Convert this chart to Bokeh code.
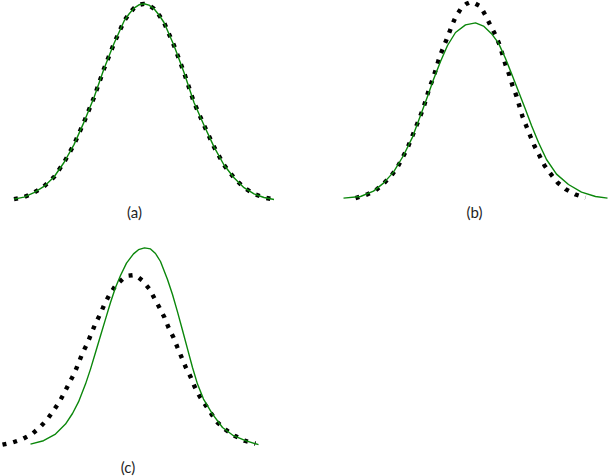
from bokeh.plotting import figure
from bokeh.layouts import gridplot
from bokeh.models import Range1d, Label
from bokeh.embed import file_html
from bokeh.resources import INLINE

# (a) reference and fit coincide
a_x = [-13, -12, -11, -10, -9, -8, -7, -6, -5, -4, -3, -2, -1.5, -1, -0.5, 0,
       0.5, 1, 1.5, 2, 3, 4, 5, 6, 7, 8, 9, 10, 11, 12, 13]
a_y = [0.7, 1.7, 3.9, 7.05, 11.75, 19.0, 27.95, 39.2, 51.5, 65.85, 78.5, 89.65, 93.25, 96.2, 97.85, 98.35,
       97.7, 95.9, 92.75, 89.0, 77.5, 64.0, 49.0, 37.65, 26.8, 17.75, 11.35, 6.4, 3.3, 1.5, 0.5]

# (b) wider fit against a taller reference
b_dot_x = [-11.5, -10.4, -9.5, -8.7, -7.9, -7.3, -6.8, -6.3, -5.9, -5.5, -5.1, -4.7, -4.4, -4.1,
           -3.7, -3.4, -3.1, -2.7, -2.3, -1.9, -1.5, -0.9, -0.45, 0, 0.5, 1.0, 1.5, 2.0, 2.5, 2.9,
           3.2, 3.5, 3.9, 4.2, 4.6, 4.9, 5.2, 5.6, 6.0, 6.4, 6.9, 7.4, 8.0, 8.7, 9.5, 10.5, 11.5]
b_dot_y = [1.2, 2.9, 5.0, 8.4, 12.5, 16.7, 21.4, 26.2, 31.2, 36.2, 41.2, 46.4, 51.4, 56.4,
           61.7, 66.7, 71.7, 76.7, 81.7, 87.0, 91.7, 96.4, 98.2, 99.2, 98.4, 97.0, 92.5, 87.5, 82.7, 77.9,
           72.9, 67.9, 62.5, 57.4, 52.2, 47.0, 42.0, 37.0, 32.0, 27.2, 22.4, 17.5, 13.4, 9.0, 5.7, 3.0, 1.4]
b_fit_x = [-12.7, -11.0, -9.7, -8.7, -7.7, -6.7, -5.8, -5.0, -4.3, -3.7, -3.0, -2.3, -1.5, -0.5,
           0.5, 1.3, 2.1, 2.8, 3.5, 4.1, 4.8, 5.5, 6.1, 6.8, 7.6, 8.6, 9.8, 11.1, 12.5, 13.7]
b_fit_y = [1.2, 2.0, 4.7, 8.7, 14.2, 22.5, 31.7, 42.5, 52.0, 60.5, 69.5, 77.5, 84.0, 87.8,
           88.8, 87.2, 83.4, 78.7, 71.0, 63.5, 54.5, 45.5, 37.5, 29.0, 20.5, 13.2, 8.0, 4.2, 2.0, 1.2]

# (c) skewed reference against a narrower fit
c_dot_x = [-14.2, -13.2, -12.2, -11.2, -10.4, -9.7, -9.1, -8.5, -8.0, -7.5, -7.0, -6.6, -6.2, -5.7,
           -5.3, -4.9, -4.4, -4.0, -3.5, -2.9, -2.1, -1.6, -1.1, -0.7, -0.2, 0.5, 1.0, 1.5, 2.0, 2.4,
           2.9, 3.3, 3.7, 4.1, 4.6, 5.0, 5.5, 6.1, 6.7, 7.3, 8.1, 9.0, 10.0, 11.1]
c_dot_y = [0.4, 1.5, 3.2, 5.9, 9.4, 13.2, 17.4, 21.9, 26.5, 31.5, 36.2, 41.2, 46.2, 51.2,
           56.2, 61.0, 66.0, 70.7, 75.4, 79.9, 83.7, 84.9, 85.2, 84.4, 82.4, 78.2, 73.5, 68.9, 64.0, 59.0,
           54.0, 49.0, 44.2, 39.4, 34.4, 29.5, 24.7, 20.2, 15.7, 11.5, 7.9, 4.9, 2.4, 0.9]
c_fit_x = [-11.4, -10.1, -8.9, -7.9, -7.2, -6.6, -5.9, -5.4, -4.9, -4.4, -3.9, -3.4, -2.9, -2.4,
           -1.8, -1.1, -0.6, 0, 0.6, 1.1, 1.6, 2.3, 2.8, 3.3, 3.8, 4.3, 4.8, 5.3, 5.9, 6.8, 7.8,
           8.9, 10.1, 11.4]
c_fit_y = [0.7, 2.4, 5.7, 10.7, 16.0, 21.8, 30.7, 38.2, 46.5, 54.9, 63.2, 71.5, 79.0, 85.0,
           91.2, 95.8, 97.9, 98.8, 98.3, 96.0, 92.0, 83.0, 75.5, 66.8, 57.6, 48.3, 39.0, 30.7, 23.2, 15.7, 9.0,
           4.9, 2.4, 0.4]

GREEN = "#0b870b"


def panel(xr, yr, dot_x, dot_y, fit_x, fit_y, label, lx, ly):
    p = figure(width=304, height=238, x_range=Range1d(*xr), y_range=Range1d(*yr),
               x_axis_type=None, y_axis_type=None, output_backend="svg",
               toolbar_location=None, min_border=0, outline_line_color=None)
    p.line(dot_x, dot_y, line_color="black", line_width=4.4, line_dash="4 7")
    p.line(fit_x, fit_y, line_color=GREEN, line_width=1.4)
    p.add_layout(Label(x=lx, y=ly, text=label, text_font="Lato", text_font_size="15px",
                       text_color="#1e1e1e", text_align="center", text_baseline="middle"))
    return p


pa = panel((-14.35, 16.05), (-19, 100), a_x, a_y, a_x, a_y, "(a)", -0.95, -5.5)
pb = panel((-16.6, 13.8), (-19, 100), b_dot_x, b_dot_y, b_fit_x, b_fit_y, "(b)", 0.4, -5.5)
pc = panel((-14.4, 16.0), (-15.5, 103.5), c_dot_x, c_dot_y, c_fit_x, c_fit_y, "(c)", -1.65, -10.85)

p = gridplot([[pa, pb], [pc, None]], toolbar_location=None)

open("out.html", "w").write(file_html(p, INLINE))
